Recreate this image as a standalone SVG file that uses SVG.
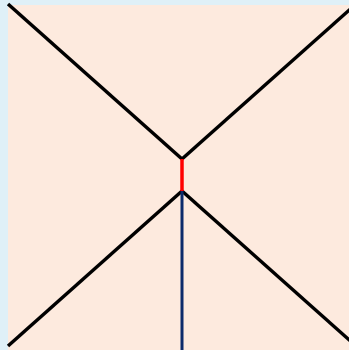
<svg xmlns="http://www.w3.org/2000/svg" width="349" height="350" viewBox="0 0 349 350">
<style>
.edge{stroke:#000;stroke-width:3.5;fill:none;stroke-linecap:butt}
</style>
<rect x="0" y="0" width="349" height="350" fill="#dff0f7"/>
<rect id="panel" x="8" y="5" width="341" height="345" fill="#fdeade"/>
<g id="connectors">
<line class="edge" x1="8" y1="4" x2="182" y2="159"/>
<line class="edge" x1="182" y1="159" x2="351" y2="8.5"/>
<line class="edge" x1="182" y1="191" x2="8" y2="346"/>
<line class="edge" x1="182" y1="191" x2="351" y2="341.5"/>
<line x1="182" y1="159" x2="182" y2="191" stroke="#ff0000" stroke-width="3.5"/>
<line x1="182" y1="191" x2="182" y2="350" stroke="#0b2a6b" stroke-width="3"/>
</g>
</svg>
